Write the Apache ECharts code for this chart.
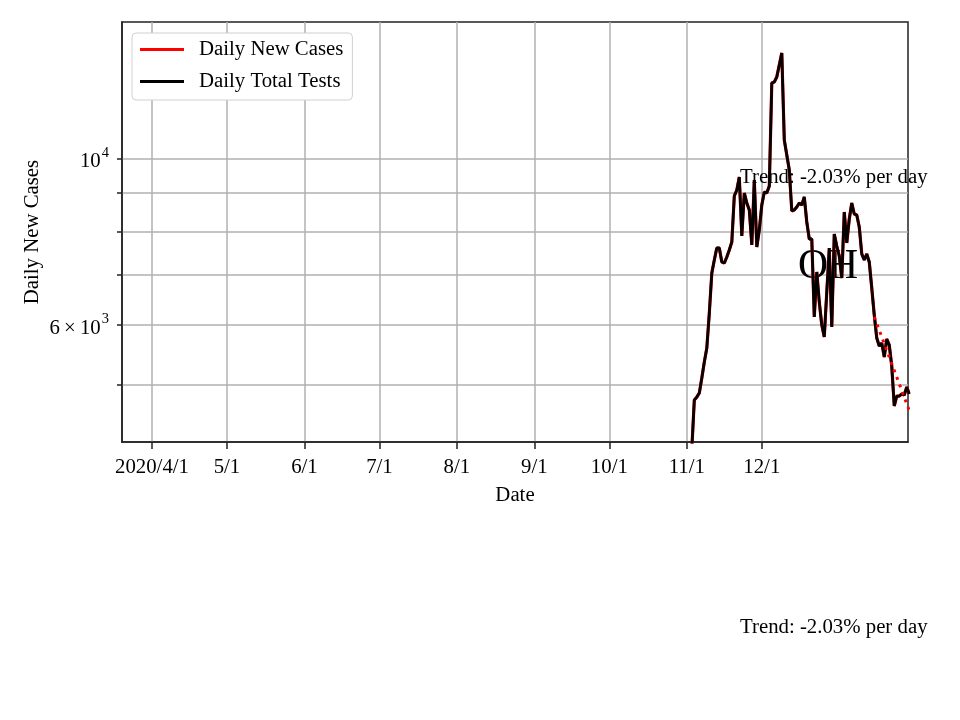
<!DOCTYPE html>
<html>
<head>
<meta charset="utf-8">
<script src="https://cdn.jsdelivr.net/npm/echarts@6/dist/echarts.min.js"></script>
<style>
  html, body { margin: 0; background: #fff; }
  #chart { width: 960px; height: 720px; }
</style>
</head>
<body>
<div id="chart"></div>
<script>
// daily values from 2020-11-01 on (earlier days sit below the y range)
const startDate = "2020-11-01"
const newCases = [
  3400, 3700, 4100, 4764, 4808, 4868, 5098, 5355, 5591, 6226,
  7042, 7329, 7605, 7605, 7284, 7261, 7397, 7558, 7746, 8924,
  9090, 9461, 7891, 9007, 8734, 8548, 7675, 9374, 7628, 8038,
  8680, 9035, 9007, 9203, 12634, 12673, 12870, 13354, 13856, 10602,
  10124, 9667, 8521, 8548, 8627, 8734, 8680, 8897, 8238, 7818,
  7818, 6150, 7064, 6440, 6001, 5783, 6642, 7605, 5964, 7939,
  7651, 7420, 6934, 8495, 7723, 8314, 8734, 8443, 8417, 8112,
  7466, 7329, 7466, 7284, 6724, 6188, 5765, 5625, 5677, 5438,
  5748, 5642, 5289, 4677, 4823, 4823, 4853, 4838, 4958, 4853
]
// the black line lies exactly on the red one
const totalTests = newCases.slice()

const trendDates = ["2021-01-15", "2021-01-29"]
const trendValues = [6150, 4613]

const xTicks = ["2020-04-01", "2020-05-01", "2020-06-01", "2020-07-01", "2020-08-01",
  "2020-09-01", "2020-10-01", "2020-11-01", "2020-12-01"]
const xTickLabels = ["2020/4/1", "5/1", "6/1", "7/1", "8/1", "9/1", "10/1", "11/1", "12/1"]

const yGrid = [5000, 6000, 7000, 8000, 9000, 10000]
const yLabelValues = [6000, 10000]

const FONT = "Liberation Serif"

const toTime = s => new Date(s + "T00:00:00").getTime()

const dates = []
{
  const d0 = new Date(startDate + "T00:00:00")
  for (let i = 0; i < newCases.length; i++) {
    const d = new Date(d0.getFullYear(), d0.getMonth(), d0.getDate() + i)
    dates.push(d.getTime())
  }
}
const xTickTimes = xTicks.map(toTime)

const chart = echarts.init(document.getElementById("chart"))

const option = {
  animation: false,
  backgroundColor: "#fff",
  textStyle: { fontFamily: FONT },
  grid: {
    left: 122, right: 52, top: 22, bottom: 278,
    show: true, borderColor: "#222", borderWidth: 1.5, backgroundColor: "transparent"
  },
  legend: {
    orient: "vertical",
    left: 132, top: 33,
    padding: [6, 9, 8, 8],
    itemGap: 11,
    itemWidth: 44, itemHeight: 3,
    icon: "rect",
    backgroundColor: "#fff",
    borderColor: "#d0d0d0", borderWidth: 1, borderRadius: 4,
    textStyle: { fontFamily: FONT, fontSize: 20.8, color: "#000", lineHeight: 20, padding: [0, 0, 0, 10] },
    data: ["Daily New Cases", "Daily Total Tests"]
  },
  xAxis: {
    type: "value",
    min: toTime("2020-03-20"),
    max: new Date("2021-01-28T12:00:00").getTime(),
    name: "Date",
    nameLocation: "middle",
    nameGap: 43,
    nameTextStyle: { fontFamily: FONT, fontSize: 20.8, color: "#000" },
    axisLine: { show: true, onZero: false, lineStyle: { color: "#222", width: 1.5 } },
    axisTick: { show: true, inside: false, length: 7, customValues: xTickTimes, lineStyle: { color: "#222", width: 1.5 } },
    axisLabel: {
      customValues: xTickTimes,
      margin: 15,
      fontFamily: FONT, fontSize: 20.8, color: "#000",
      formatter: v => {
        const i = xTickTimes.indexOf(v)
        return i >= 0 ? xTickLabels[i] : ""
      }
    },
    splitLine: { show: true, lineStyle: { color: "#b0b0b0", width: 1.5 } }
  },
  yAxis: {
    type: "log",
    logBase: 10,
    min: 4187,
    max: 15240,
    name: "Daily New Cases",
    nameLocation: "middle",
    nameGap: 79,
    nameMoveOverlap: false,
    nameTextStyle: { fontFamily: FONT, fontSize: 20.8, color: "#000" },
    axisLine: { show: true, lineStyle: { color: "#222", width: 1.5 } },
    axisTick: { show: true, inside: false, length: 5, customValues: yGrid, lineStyle: { color: "#222", width: 1.5 } },
    axisLabel: {
      customValues: yLabelValues,
      margin: 13,
      fontFamily: FONT, fontSize: 20.8, color: "#000",
      formatter: v => Math.round(v) === 10000 ? "{b|10}{s|4}" : "{b|6\u2009×\u200910}{s|3}",
      rich: {
        b: { fontFamily: FONT, fontSize: 20.8, color: "#000", padding: [6, 0, 0, 0] },
        s: { fontFamily: FONT, fontSize: 14.5, color: "#000", padding: [0, 0, 12, 1] }
      }
    },
    splitLine: { show: true, lineStyle: { color: "#b0b0b0", width: 1.5 } }
  },
  series: [
    {
      name: "Daily New Cases",
      type: "line",
      data: dates.map((t, i) => [t, newCases[i]]),
      showSymbol: false,
      symbol: "none",
      lineStyle: { color: "#ff0000", width: 3.2 },
      itemStyle: { color: "#ff0000" },
      z: 2
    },
    {
      name: "Daily Total Tests",
      type: "line",
      data: dates.map((t, i) => [t, totalTests[i]]),
      showSymbol: false,
      symbol: "none",
      lineStyle: { color: "#000", width: 2.8 },
      itemStyle: { color: "#000" },
      z: 3
    },
    {
      name: "Trend",
      type: "line",
      data: trendDates.map((s, i) => [toTime(s), trendValues[i]]),
      showSymbol: false,
      symbol: "none",
      lineStyle: { color: "#ff0000", width: 3, type: [3, 5] },
      z: 4
    }
  ],
  graphic: [
    {
      type: "text", left: 740, top: 167, z: 10,
      style: { text: "Trend: -2.03% per day", font: "20.8px 'Liberation Serif'", fill: "#000" }
    },
    {
      type: "text", left: 740, top: 617, z: 10,
      style: { text: "Trend: -2.03% per day", font: "20.8px 'Liberation Serif'", fill: "#000" }
    },
    {
      type: "text", x: 828, y: 267, z: 1,
      style: { text: "OH", font: "41.7px 'Liberation Serif'", fill: "#000", align: "center", verticalAlign: "middle" }
    }
  ]
}

chart.setOption(option)
</script>
</body>
</html>
